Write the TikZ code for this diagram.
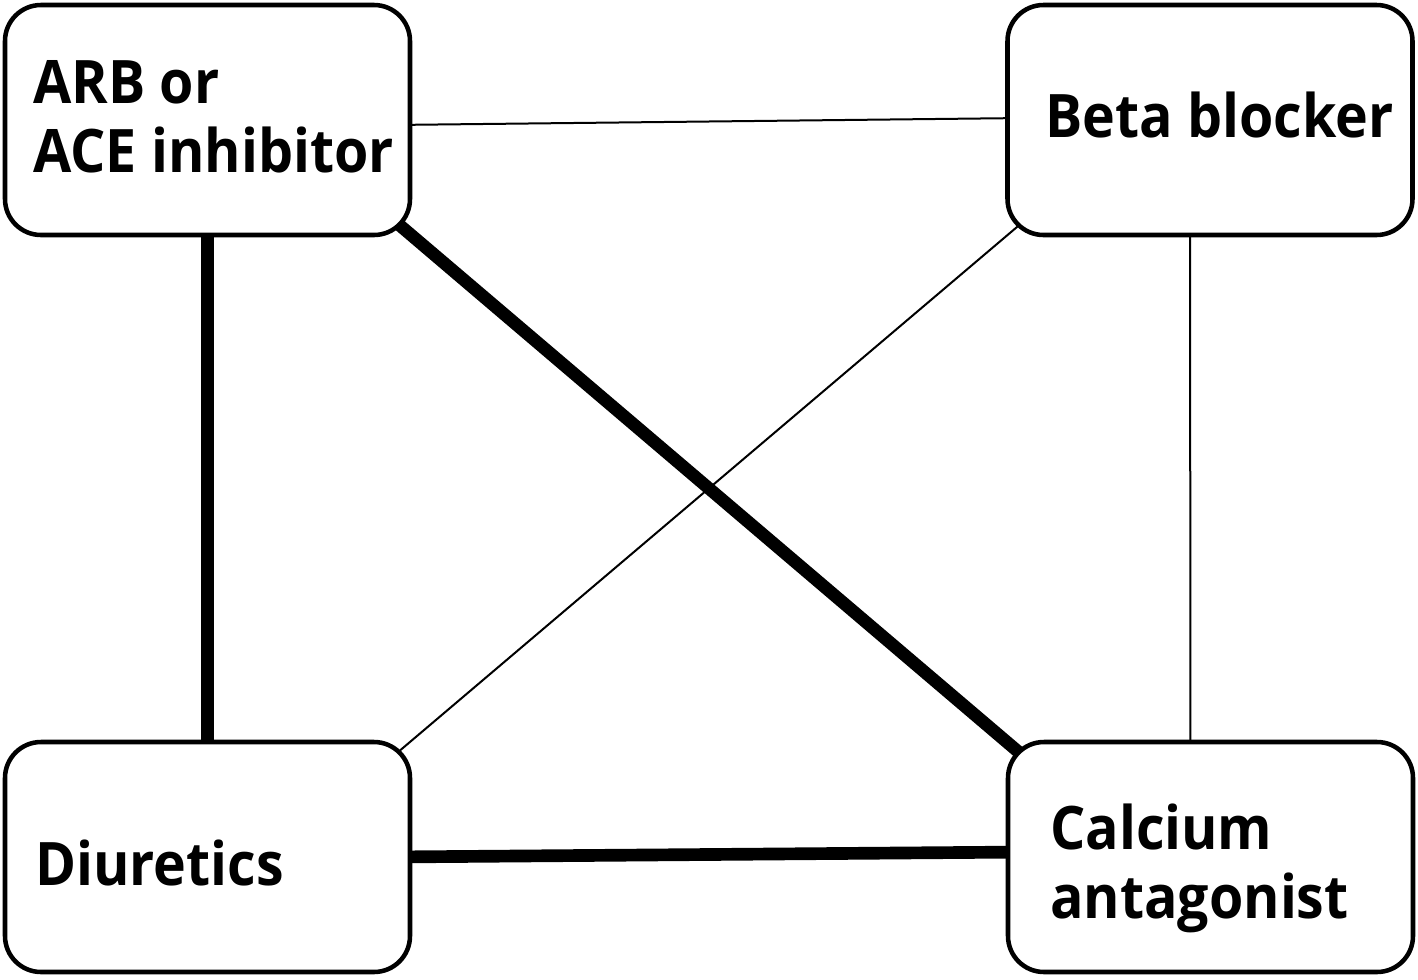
\documentclass[tikz,border=0pt]{standalone}
\usepackage{fontspec}
\setmainfont{Open Sans}[FakeStretch=0.925]
\usetikzlibrary{calc,backgrounds}
\tikzset{
  drug/.style={draw=black, line width=3.4pt, fill=white, rounded corners=27pt,
    minimum width=303.75pt, minimum height=172.5pt, inner sep=0pt},
  lbl/.style={font=\fontsize{45}{51.75}\selectfont\bfseries, align=left, inner sep=0pt, anchor=base west},
  thinlink/.style={line width=1.5pt},
  thicklink/.style={line width=9.5pt},
}
\begin{document}
\begin{tikzpicture}[x=0.75pt,y=-0.75pt]
\useasboundingbox (0,0) rectangle (1418,979);
\node[drug] (arb) at (207.5,120) {};
\node[drug] (beta) at (1210,120) {};
\node[drug] (diu) at (207.5,857) {};
\node[drug] (cal) at (1210.5,857) {};
\node[lbl] (arbt) at (33,172) {ARB or\\ACE inhibitor};
\node[lbl] (betat) at (1045,137) {Beta blocker};
\node[lbl] (diut) at (35,885) {Diuretics};
\node[lbl] (calt) at (1050,918) {Calcium\\antagonist};
\begin{scope}[on background layer]
\draw[thinlink] ($(arb.east)+(-20,5)$) -- ($(beta.west)+(20,-2)$);
\draw[thicklink] (arb.center) -- (diu.center);
\draw[thicklink] ($(arb.south east)+(-60,-52.4)$) -- ($(cal.north west)+(60,52.4)$);
\draw[thinlink] ($(beta.south west)+(60,-51.2)$) -- ($(diu.north east)+(-60,51.2)$);
\draw[thinlink] ($(beta.center)+(-20,0)$) -- ($(cal.center)+(-20,0)$);
\draw[thicklink] ($(diu.east)+(-20,0)$) -- ($(cal.west)+(20,-5)$);
\end{scope}
\end{tikzpicture}
\end{document}
